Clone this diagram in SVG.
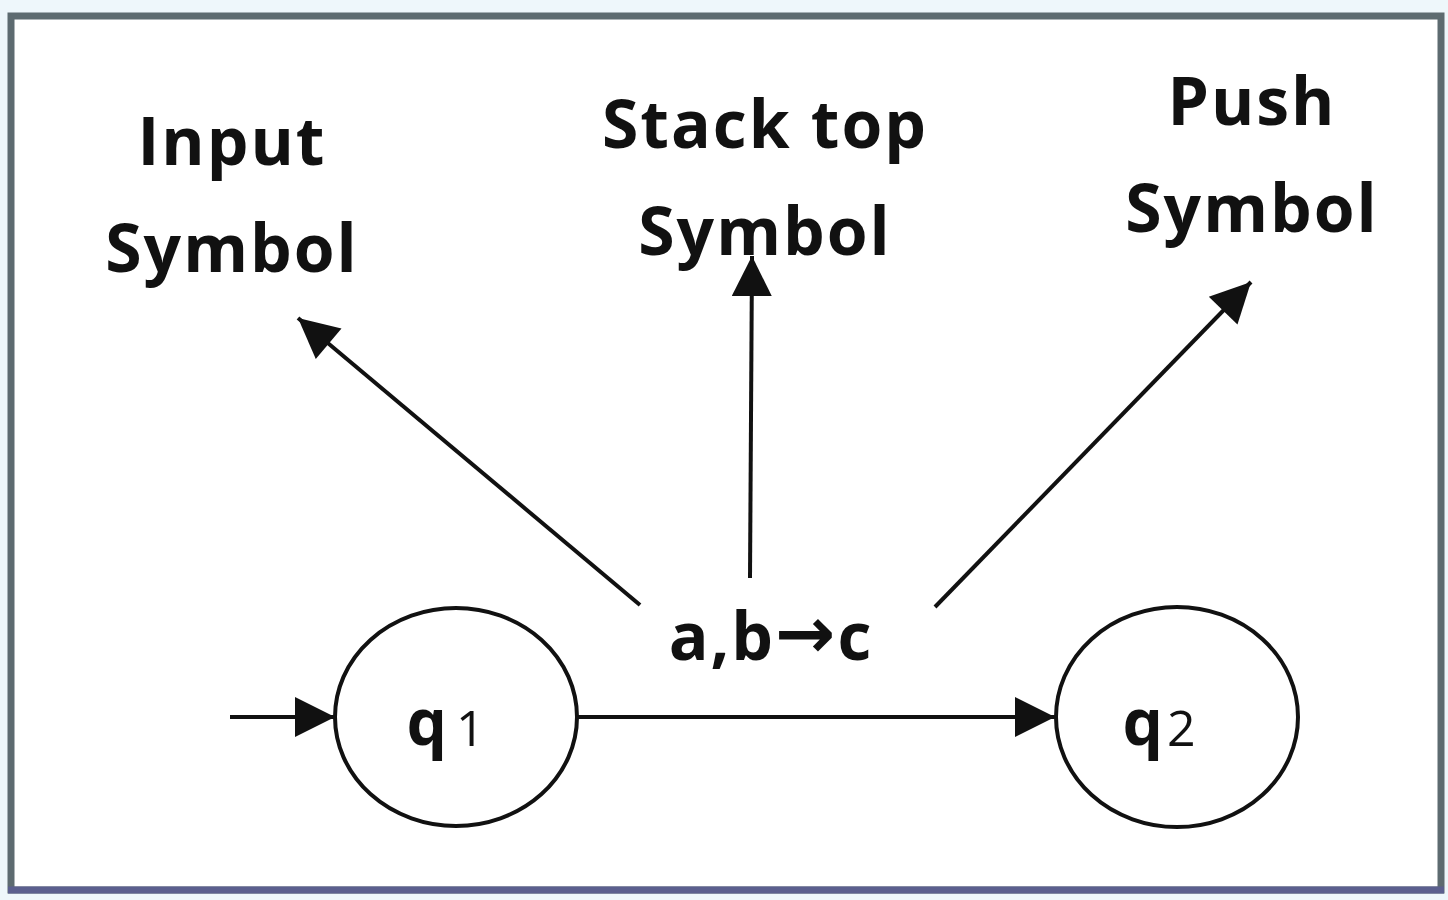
<svg xmlns="http://www.w3.org/2000/svg" width="1448" height="900" viewBox="0 0 1448 900">
<style>
.lbl{font-family:"Open Sans","Noto Sans",sans-serif;font-weight:bold;font-size:66px;letter-spacing:2px;fill:#111;text-anchor:middle}
.st{fill:none;stroke:#111;stroke-width:4}
.ln{stroke:#111;stroke-width:4;fill:none}
.qn{font-family:"Open Sans",sans-serif;font-weight:bold;font-size:64px;fill:#111;text-anchor:end}
.qs{font-family:"Open Sans",sans-serif;font-size:50px;fill:#111}
</style>
<defs>
<marker id="ah2" viewBox="0 0 10 10" refX="10" refY="5" markerWidth="44" markerHeight="40" orient="auto" markerUnits="userSpaceOnUse">
<path d="M0,0 L10,5 L0,10 z" fill="#111"/>
</marker>
</defs>
<rect x="0" y="0" width="1448" height="900" fill="#eef7fb"/>
<rect x="11" y="16" width="1430" height="874" fill="#ffffff" stroke="#5d6b70" stroke-width="7"/>
<line x1="8" y1="890" x2="1444" y2="890" stroke="#5b5f8e" stroke-width="7"/>
<g id="labels">
<text class="lbl" x="232" y="165">Input</text>
<text class="lbl" x="232" y="272">Symbol</text>
<text class="lbl" x="765" y="148">Stack top</text>
<text class="lbl" x="765" y="255">Symbol</text>
<text class="lbl" x="1252" y="125">Push</text>
<text class="lbl" x="1252" y="232">Symbol</text>
<text class="lbl" x="771" y="660" font-size="60" letter-spacing="0">a,b<tspan font-family="DejaVu Sans" font-size="72" dy="-2">→</tspan><tspan dy="2">c</tspan></text>
</g>
<g id="q1">
<ellipse class="st" cx="456" cy="717" rx="121" ry="109"/>
<text class="qn" x="447" y="745">q</text>
<text class="qs" x="456" y="746">1</text>
</g>
<g id="q2">
<ellipse class="st" cx="1177" cy="717" rx="121" ry="110"/>
<text class="qn" x="1163" y="745">q</text>
<text class="qs" x="1167" y="746">2</text>
</g>
<g id="connectors">
<line class="ln" x1="230" y1="717" x2="335" y2="717" marker-end="url(#ah2)"/>
<line class="ln" x1="578" y1="717" x2="1055" y2="717" marker-end="url(#ah2)"/>
<line class="ln" x1="640" y1="605" x2="298" y2="318" marker-end="url(#ah2)"/>
<line class="ln" x1="750" y1="578" x2="752" y2="256" marker-end="url(#ah2)"/>
<line class="ln" x1="935" y1="607" x2="1251" y2="282" marker-end="url(#ah2)"/>
</g>
</svg>
